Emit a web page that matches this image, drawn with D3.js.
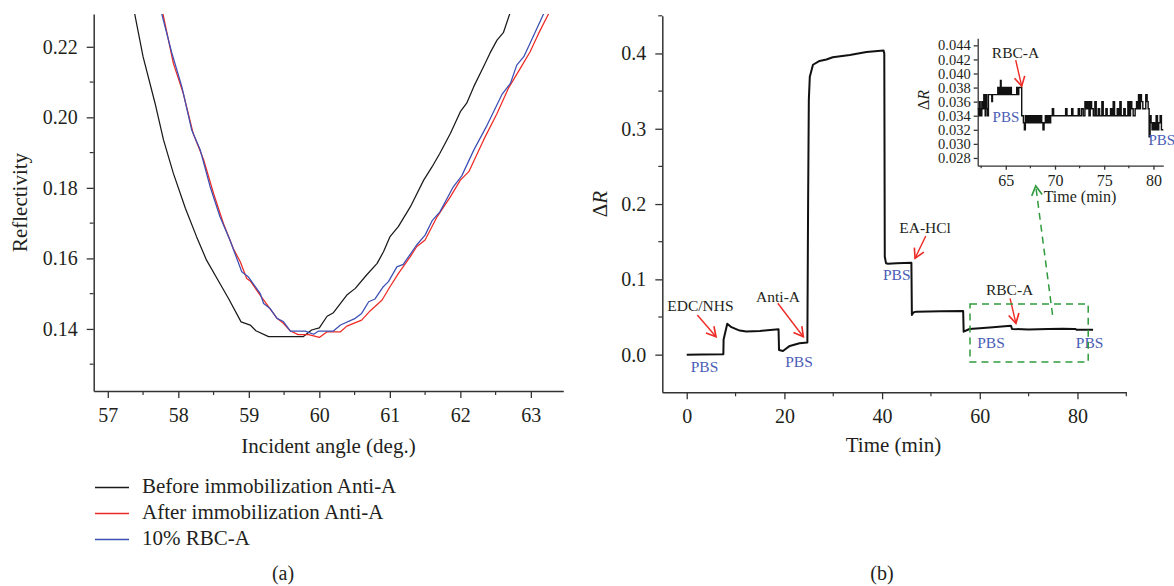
<!DOCTYPE html>
<html><head><meta charset="utf-8">
<script src="https://cdn.jsdelivr.net/npm/d3@7"></script>
<style>
body{margin:0;background:#fff}
svg{display:block}
text{font-family:"Liberation Serif","Times New Roman",serif;fill:#231f20}
</style>
</head><body>
<svg id="c" width="1174" height="586"></svg>
<script>
// ---------- Panel (a) data ----------
const angleBefore = [57.37,57.50,57.67,57.79,57.93,58.10,58.26,58.40,58.59,58.71,58.89,59.02,59.10,59.28,59.50,59.77,59.89,60.00,60.11,60.20,60.39,60.51,60.67,60.82,60.91,61.00,61.12,61.29,61.48,61.60,61.71,61.86,62.00,62.09,62.19,62.33,62.42,62.52,62.61,62.72];
const reflBefore  = [0.2305,0.2172,0.2040,0.1936,0.1841,0.1742,0.1661,0.1595,0.1529,0.1487,0.1420,0.1411,0.1395,0.1378,0.1378,0.1378,0.1397,0.1403,0.1436,0.1446,0.1496,0.1515,0.1553,0.1586,0.1619,0.1661,0.1690,0.1746,0.1822,0.1860,0.1898,0.1955,0.2016,0.2040,0.2087,0.2144,0.2182,0.2219,0.2240,0.2305];
const angleAfter = [57.77,57.93,58.07,58.21,58.36,58.50,58.64,58.78,58.88,58.97,59.02,59.16,59.40,59.49,59.59,59.70,59.85,60.00,60.11,60.30,60.39,60.60,60.72,60.89,61.00,61.12,61.29,61.38,61.50,61.67,61.86,62.00,62.12,62.33,62.52,62.68,62.85,62.99,63.11,63.25,63.27];
const reflAfter  = [0.2305,0.2153,0.2068,0.1955,0.1879,0.1784,0.1699,0.1628,0.1590,0.1543,0.1536,0.1496,0.1430,0.1416,0.1394,0.1384,0.1384,0.1376,0.1392,0.1392,0.1408,0.1425,0.1451,0.1482,0.1519,0.1557,0.1605,0.1633,0.1652,0.1718,0.1775,0.1822,0.1846,0.1936,0.2011,0.2082,0.2139,0.2186,0.2238,0.2293,0.2305];
const angleRBC = [57.75,57.91,58.05,58.19,58.31,58.45,58.59,58.73,58.90,58.99,59.16,59.21,59.30,59.40,59.49,59.59,59.80,59.92,59.99,60.20,60.30,60.51,60.60,60.70,60.79,60.90,60.98,61.10,61.19,61.38,61.50,61.60,61.71,61.90,62.02,62.19,62.38,62.59,62.71,62.80,62.90,63.18,63.20];
const reflRBC  = [0.2305,0.2181,0.2087,0.1964,0.1908,0.1804,0.1719,0.1653,0.1562,0.1548,0.1501,0.1472,0.1458,0.1430,0.1421,0.1394,0.1394,0.1385,0.1394,0.1394,0.1411,0.1430,0.1444,0.1477,0.1485,0.1518,0.1534,0.1576,0.1583,0.1638,0.1666,0.1707,0.1732,0.1803,0.1834,0.1907,0.1978,0.2065,0.2096,0.2148,0.2172,0.2293,0.2305];
const seriesNames = ["Before immobilization Anti-A","After immobilization Anti-A","10% RBC-A"];
const angleTicks = [57,58,59,60,61,62,63];
const reflTicks = [0.14,0.16,0.18,0.20,0.22];

// ---------- Panel (b) data ----------
const timeMain = [0,3,7.5,7.55,8.3,9.15,10.85,12.2,15,18.8,18.9,19.7,21.1,23.1,24.7,24.85,25.0,25.2,25.85,27.2,28.6,29.9,33.4,36.8,40.3,40.45,40.55,40.8,41.2,43,46,46.1,46.4,47,52,56.6,56.7,57.9,60,62.7,64.5,66.4,66.6,70,74,77,79.3,79.6,79.8,83.2];
const dRMain   = [0,0.0003,0.0005,0.02,0.041,0.0365,0.032,0.0306,0.0315,0.0337,0.0062,0.0049,0.0116,0.0151,0.016,0.20,0.338,0.369,0.385,0.390,0.392,0.395,0.398,0.402,0.404,0.40,0.13,0.1215,0.1208,0.1215,0.122,0.0527,0.056,0.0571,0.0575,0.058,0.0305,0.0341,0.035,0.0365,0.0375,0.0385,0.0341,0.0335,0.034,0.0345,0.034,0.034,0.033,0.0332];
const timeTicks = [0,20,40,60,80];
const dRTicks = [0.0,0.1,0.2,0.3,0.4];

// Inset: change points (time, ΔR in units of 0.001)
const timeInset = [62.16,62.26,62.33,62.40,62.47,62.57,62.67,62.77,62.84,62.91,62.97,63.07,63.14,63.24,63.58,63.65,64.19,64.26,64.32,64.39,64.46,64.53,64.63,64.73,64.83,64.93,65.03,65.14,65.24,65.34,65.47,65.57,66.11,66.22,66.32,66.62,66.79,66.89,66.99,67.13,67.23,67.36,67.47,67.57,67.70,67.84,67.97,68.11,68.24,68.38,68.51,68.65,68.78,68.89,69.02,69.16,69.29,69.43,69.56,69.73,69.86,71.08,71.22,71.69,71.82,72.36,72.50,72.70,72.87,73.04,73.18,73.31,73.45,73.58,73.72,73.89,74.05,74.19,74.39,74.53,74.76,74.90,75.17,75.30,75.64,75.78,75.91,76.05,76.32,76.45,76.59,76.72,76.99,77.13,77.40,77.53,77.67,77.80,77.94,78.14,78.28,78.38,78.48,78.58,78.68,78.78,78.92,79.22,79.36,79.46,79.56,79.66,79.76,79.86,80.00,80.13,80.27,80.41,80.54,80.68,80.81,81.0];
const dRInsetMilli = [35,34,36,35,34,36,35,37,36,34,37,35,34,37,36,37,38,37,38,37,39,37,38,37,38,37,38,37,38,37,38,37,38,37,38,34,33,32,34,33,34,33,34,33,34,33,34,33,34,33,34,33,32,33,34,33,34,33,34,35,34,35,34,35,34,35,34,35,34,36,35,36,34,36,35,34,36,34,35,34,36,34,35,34,35,34,36,34,35,34,36,34,35,34,36,34,36,35,34,35,36,35,37,35,37,36,35,37,36,35,31,34,33,32,33,32,34,32,33,34,32,32];
const insetTimeTicks = [65,70,75,80];
const insetDRTicks = [0.028,0.030,0.032,0.034,0.036,0.038,0.040,0.042,0.044];

// Annotations (data coordinates of panel b)
const stepLabels = [
  {text:"EDC/NHS", t:2.8, v:0.058},
  {text:"Anti-A", t:18.7, v:0.070},
  {text:"EA-HCl", t:48.8, v:0.1616},
  {text:"RBC-A", t:66.1, v:0.0792}
];
const stepArrows = [
  {t0:2.17, v0:0.0527, t1:6.0, v1:0.0238},
  {t0:18.65, v0:0.0682, t1:23.87, v1:0.0238},
  {t0:48.94, v0:0.1576, t1:46.75, v1:0.128},
  {t0:66.2, v0:0.0748, t1:67.4, v1:0.0416}
];
const pbsLabels = [
  {t:3.64, v:-0.023},{t:23.0, v:-0.0164},{t:43.0, v:0.0991},{t:62.3, v:0.0088},{t:82.5, v:0.0088}
];
const zoomBox = {t0:58.0, t1:82.2, v0:-0.0098, v1:0.0673};
const zoomArrow = {t0:74.9, v0:0.0527, t1:71.46, v1:0.224};
const insetLabel = {text:"RBC-A", t:65.99, v:0.0422};
const insetArrow = {t0:66.01, v0:0.0419, t1:66.62, v1:0.0382};
const insetPBS = [{t:65.02, v:0.0331, anchor:"middle"},{t:79.5, v:0.0298, anchor:"start"}];

// ---------- Drawing ----------
const svg = d3.select("#c");
const AX = "#333";
const RED = "#ee2a24", BLUE = "#3c4fb4", PBSC = "#4a5db5", GREEN = "#2f9a3c";
const defs = svg.append("defs");
function marker(id, color, size){
  defs.append("marker").attr("id",id).attr("viewBox","-10 -6 12 12")
    .attr("markerWidth",size).attr("markerHeight",size).attr("markerUnits","userSpaceOnUse")
    .attr("refX",0).attr("refY",0).attr("orient","auto")
    .append("path").attr("d","M-8,-4.5 L0,0 L-8,4.5").attr("fill","none").attr("stroke",color).attr("stroke-width",1.4);
}
marker("ar", RED, 14);
marker("ag", GREEN, 14);

function styleAxis(g, fs){
  g.attr("font-family",null);
  g.select(".domain").attr("stroke",AX).attr("stroke-width",1.5);
  g.selectAll(".tick line").attr("stroke",AX).attr("stroke-width",1.3);
  g.selectAll(".tick text").attr("font-size",fs).attr("fill","#231f20");
}
function minorTicks(g, scale, vals, len, orient){
  vals.forEach(v=>{
    const p = scale(v);
    if(orient==="bottom") g.append("line").attr("x1",p).attr("x2",p).attr("y1",0).attr("y2",len).attr("stroke",AX).attr("stroke-width",1.2);
    else g.append("line").attr("y1",p).attr("y2",p).attr("x1",0).attr("x2",-len).attr("stroke",AX).attr("stroke-width",1.2);
  });
}

// Panel (a)
const xL = d3.scaleLinear().domain([56.8,63.46]).range([93.7,563.3]);
const yL = d3.scaleLinear().domain([0.1224,0.2293]).range([391,14]);
defs.append("clipPath").attr("id","clipL").append("rect").attr("x",93.7).attr("y",14).attr("width",469.6).attr("height",377);

const gxL = svg.append("g").attr("transform","translate(0,391)")
  .call(d3.axisBottom(xL).tickValues(angleTicks).tickFormat(d3.format("d")).tickSize(7).tickSizeOuter(0).tickPadding(10));
styleAxis(gxL, 20);
minorTicks(gxL, xL, [57.5,58.5,59.5,60.5,61.5,62.5], 4, "bottom");
const gyL = svg.append("g").attr("transform","translate(93.7,0)")
  .call(d3.axisLeft(yL).tickValues(reflTicks).tickFormat(d3.format(".2f")).tickSize(7).tickSizeOuter(0).tickPadding(9));
styleAxis(gyL, 20);
minorTicks(gyL, yL, [0.13,0.15,0.17,0.19,0.21], 4, "left");

const lineL = d3.line().x(d=>xL(d[0])).y(d=>yL(d[1]));
const specA = [[angleBefore,reflBefore,"#1a1a1a"],[angleAfter,reflAfter,RED],[angleRBC,reflRBC,BLUE]];
const plotL = svg.append("g").attr("clip-path","url(#clipL)");
specA.forEach(s=>{
  plotL.append("path").datum(d3.zip(s[0],s[1])).attr("d",lineL)
    .attr("fill","none").attr("stroke",s[2]).attr("stroke-width",1.25).attr("stroke-linejoin","round");
});
svg.append("text").attr("x",328.5).attr("y",453).attr("text-anchor","middle").attr("font-size",21).text("Incident angle (deg.)");
svg.append("text").attr("transform","translate(27,202.5) rotate(-90)").attr("text-anchor","middle").attr("font-size",21).text("Reflectivity");

// legend
const legY = [487.5,513.5,539.5];
seriesNames.forEach((n,i)=>{
  svg.append("line").attr("x1",95).attr("x2",129).attr("y1",legY[i]).attr("y2",legY[i]).attr("stroke",specA[i][2]).attr("stroke-width",1.6);
  svg.append("text").attr("x",142).attr("y",legY[i]+5.5).attr("font-size",21).text(n);
});
svg.append("text").attr("x",283).attr("y",580).attr("text-anchor","middle").attr("font-size",20).text("(a)");
svg.append("text").attr("x",882).attr("y",580).attr("text-anchor","middle").attr("font-size",20).text("(b)");

// Panel (b)
const xR = d3.scaleLinear().domain([-5,90]).range([662.3,1126.3]);
const yR = d3.scaleLinear().domain([-0.05,0.45]).range([392.3,15.8]);
const gxR = svg.append("g").attr("transform","translate(0,392.3)")
  .call(d3.axisBottom(xR).tickValues(timeTicks).tickFormat(d3.format("d")).tickSize(7).tickSizeOuter(0).tickPadding(10));
styleAxis(gxR, 20);
minorTicks(gxR, xR, [10,30,50,70,90], 4, "bottom");
const gyR = svg.append("g").attr("transform","translate(662.3,0)")
  .call(d3.axisLeft(yR).tickValues(dRTicks).tickFormat(d3.format(".1f")).tickSize(7).tickSizeOuter(0).tickPadding(9));
styleAxis(gyR, 20);
minorTicks(gyR, yR, [0.05,0.15,0.25,0.35,0.45], 4, "left");

const lineR = d3.line().x(d=>xR(d[0])).y(d=>yR(d[1]));
svg.append("path").datum(d3.zip(timeMain,dRMain)).attr("d",lineR)
  .attr("fill","none").attr("stroke","#111").attr("stroke-width",2).attr("stroke-linejoin","round");

svg.append("text").attr("x",893.5).attr("y",452).attr("text-anchor","middle").attr("font-size",21).text("Time (min)");
const yt = svg.append("text").attr("transform","translate(607,204) rotate(-90)").attr("text-anchor","middle").attr("font-size",21);
yt.append("tspan").text("Δ"); yt.append("tspan").attr("font-style","italic").text("R");

stepLabels.forEach(a=>{
  svg.append("text").attr("x",xR(a.t)).attr("y",yR(a.v)).attr("text-anchor","middle").attr("font-size",15.5).text(a.text);
});
stepArrows.forEach(a=>{
  svg.append("line").attr("x1",xR(a.t0)).attr("y1",yR(a.v0)).attr("x2",xR(a.t1)).attr("y2",yR(a.v1))
    .attr("stroke",RED).attr("stroke-width",1.4).attr("marker-end","url(#ar)");
});
pbsLabels.forEach(a=>{
  svg.append("text").attr("x",xR(a.t)).attr("y",yR(a.v)).attr("text-anchor","middle").attr("font-size",15.5).style("fill",PBSC).text("PBS");
});
svg.append("rect").attr("x",xR(zoomBox.t0)).attr("y",yR(zoomBox.v1))
  .attr("width",xR(zoomBox.t1)-xR(zoomBox.t0)).attr("height",yR(zoomBox.v0)-yR(zoomBox.v1))
  .attr("fill","none").attr("stroke",GREEN).attr("stroke-width",1.5).attr("stroke-dasharray","7,5");
svg.append("line").attr("x1",xR(zoomArrow.t0)).attr("y1",yR(zoomArrow.v0)).attr("x2",xR(zoomArrow.t1)).attr("y2",yR(zoomArrow.v1))
  .attr("stroke",GREEN).attr("stroke-width",1.5).attr("stroke-dasharray","7,5").attr("marker-end","url(#ag)");

// Inset
const xI = d3.scaleLinear().domain([62.15,81.0]).range([977.7,1163.3]);
const yI = d3.scaleLinear().domain([0.0269,0.0450]).range([165.7,38.3]);
const gxI = svg.append("g").attr("transform","translate(0,165.7)")
  .call(d3.axisBottom(xI).tickValues(insetTimeTicks).tickFormat(d3.format("d")).tickSize(4).tickSizeOuter(0).tickPadding(5));
styleAxis(gxI, 16);
gxI.select(".domain").attr("stroke-width",1.3);
minorTicks(gxI, xI, [62.5,67.5,72.5,77.5], 2.5, "bottom");
const gyI = svg.append("g").attr("transform","translate(977.7,0)")
  .call(d3.axisLeft(yI).tickValues(insetDRTicks).tickFormat(d3.format(".3f")).tickSize(4).tickSizeOuter(0).tickPadding(3));
styleAxis(gyI, 14.5);
gyI.select(".domain").attr("stroke-width",1.3);

const insetPts = d3.zip(timeInset, dRInsetMilli.map(v=>v/1000));
svg.append("path").datum(insetPts)
  .attr("d", d3.line().x(d=>xI(d[0])).y(d=>yI(d[1])).curve(d3.curveStepAfter))
  .attr("fill","none").attr("stroke","#111").attr("stroke-width",1.4);

svg.append("text").attr("x",1080).attr("y",202).attr("text-anchor","middle").attr("font-size",16).text("Time (min)");
const yti = svg.append("text").attr("transform","translate(929,100) rotate(-90)").attr("text-anchor","middle").attr("font-size",16);
yti.append("tspan").text("Δ"); yti.append("tspan").attr("font-style","italic").text("R");
svg.append("text").attr("x",xI(insetLabel.t)).attr("y",yI(insetLabel.v)).attr("text-anchor","middle").attr("font-size",15.5).text(insetLabel.text);
svg.append("line").attr("x1",xI(insetArrow.t0)).attr("y1",yI(insetArrow.v0)).attr("x2",xI(insetArrow.t1)).attr("y2",yI(insetArrow.v1))
  .attr("stroke",RED).attr("stroke-width",1.4).attr("marker-end","url(#ar)");
insetPBS.forEach(a=>{
  svg.append("text").attr("x",xI(a.t)).attr("y",yI(a.v)).attr("text-anchor",a.anchor).attr("font-size",15).style("fill",PBSC).text("PBS");
});
</script>
</body></html>
